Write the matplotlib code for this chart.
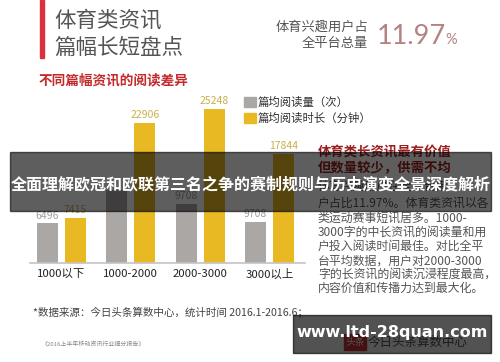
import matplotlib
matplotlib.use("Agg")
import matplotlib.pyplot as plt
from matplotlib.patches import Rectangle

plt.rcParams['font.family'] = ['Noto Sans CJK SC', 'DejaVu Sans']

# ---------------- data ----------------
categories = ["1000以下", "1000-2000", "2000-3000", "3000以上"]
reads = [6496, 11950, 9708, 6700]          # 篇均阅读量（次）
read_labels = ["6496", "", "9708", "9708"]
durations = [7415, 22906, 25248, 17844]    # 篇均阅读时长（分钟）
duration_labels = ["7415", "22906", "25248", "17844"]
series_names = ["篇均阅读量（次）", "篇均阅读时长（分钟）"]

title_lines = ["体育类资讯", "篇幅长短盘点"]
subtitle = "不同篇幅资讯的阅读差异"
kpi_label = ["体育兴趣用户占", "全平台总量"]
kpi_value = "11.97"
note_head = ["体育类长资讯最有价值", "但数量较少，供需不均"]
note_body = ["体育兴趣用户在全平台用", "户占比11.97%。体育类资讯以各", "类运动赛事短讯居多。1000-",
             "3000字的中长资讯的阅读量和用", "户投入阅读时间最佳。对比全平",
             "台平均数据，用户对2000-3000", "字的长资讯的阅读沉浸程度最高，",
             "内容价值和传播力达到最大化。"]
source = "*数据来源：今日头条算数中心，统计时间 2016.1-2016.6；"
report = "《2016上半年移动资讯行业细分报告》"
banner = "全面理解欧冠和欧联第三名之争的赛制规则与历史演变全景深度解析"
watermark = "www.ltd-28quan.com"

# ---------------- figure ----------------
W, H = 500, 362
fig = plt.figure(figsize=(W / 100, H / 100), dpi=100)
fig.patch.set_facecolor("white")

def fx(px):
    return px / W

def fy(py):
    return 1 - py / H

GRAY = "#aba7a5"
YELLOW = "#e8b923"

# chart axes: left 30px, right 305px, baseline 263px, top 63px
ax = fig.add_axes([fx(30), fy(263), fx(305) - fx(30), (263 - 63) / H])
x = list(range(len(categories)))
off = 14 / 69.3
bw = 21 / 69.3
b1 = ax.bar([i - off for i in x], reads, width=bw, color=GRAY, zorder=2)
b2 = ax.bar([i + off for i in x], durations, width=bw, color=YELLOW, zorder=2)
for rect, lab in zip(b1, read_labels):
    if lab:
        ax.annotate(lab, (rect.get_x() + rect.get_width() / 2, rect.get_height()),
                    xytext=(0, 2), textcoords="offset points", ha="center", va="bottom",
                    fontsize=7.5, color="#a19d9b")
for rect, lab in zip(b2, duration_labels):
    ax.annotate(lab, (rect.get_x() + rect.get_width() / 2, rect.get_height()),
                xytext=(0, 2), textcoords="offset points", ha="center", va="bottom",
                fontsize=7.5, color="#c8b04a")
ax.set_xlim((30 - 61.5) / 69.3, (305 - 61.5) / 69.3)
ax.set_ylim(0, 200 / 0.00611)
ax.set_xticks(x)
ax.set_xticklabels(categories, fontsize=8.2, color="#222222")
ax.tick_params(axis="x", length=0, pad=4)
ax.set_yticks([])
for s in ["top", "right", "left"]:
    ax.spines[s].set_visible(False)
ax.spines["bottom"].set_color("#c4c4c4")
ax.spines["bottom"].set_linewidth(1.2)
ax.set_facecolor("none")

# title block
fig.patches.append(Rectangle((fx(40), fy(58)), fx(4), 58 / H, transform=fig.transFigure,
                             color="#d8323f", zorder=1))
fig.text(fx(54), fy(21), title_lines[0], fontsize=15.5, color="#555555", va="center", ha="left")
fig.text(fx(54), fy(48), title_lines[1], fontsize=15.5, color="#555555", va="center", ha="left")
fig.text(fx(39), fy(80), subtitle, fontsize=9.8, color="#c42a2c", fontweight="bold", va="center")

# KPI
fig.text(fx(368), fy(27), kpi_label[0], fontsize=9.5, color="#555555", ha="right", va="center")
fig.text(fx(368), fy(43), kpi_label[1], fontsize=9.5, color="#555555", ha="right", va="center")
fig.text(fx(377), fy(44), kpi_value, fontsize=19.5, color="#b58282", ha="left", va="baseline",
         family=["Lato", "DejaVu Sans"], fontweight="normal")
fig.text(fx(445), fy(44), "%", fontsize=10.5, color="#b58282", ha="left", va="baseline",
         family=["Lato", "DejaVu Sans"], fontweight="normal")

# legend
for i, (name, col) in enumerate(zip(series_names, [GRAY, YELLOW])):
    yc = 102 + i * 16
    fig.patches.append(Rectangle((fx(244), fy(yc + 5)), 12 / W, 10 / H,
                                 transform=fig.transFigure, color=col))
    fig.text(fx(258), fy(yc), name, fontsize=8.2, color="#333333", va="center", ha="left")

# note text
fig.text(fx(318), fy(152), note_head[0], fontsize=9.6, color="#9c1e1e", fontweight="bold", va="center")
fig.text(fx(318), fy(168), note_head[1], fontsize=9.6, color="#9c1e1e", fontweight="bold", va="center")
ys = [186, 203, 218, 232, 246, 261, 274, 288]
for yy, line in zip(ys, note_body):
    fig.text(fx(318), fy(yy), line, fontsize=8.6, color="#555555", va="center", ha="left")

# footer
fig.text(fx(33), fy(313), source, fontsize=7.6, color="#444444", va="center", ha="left")
fig.text(fx(42), fy(344), report, fontsize=4.3, color="#888888", va="center", ha="left")

# logo behind watermark
fig.patches.append(Rectangle((fx(344), fy(350)), 22 / W, 16 / H, transform=fig.transFigure,
                             color="#d13535", zorder=3))
fig.text(fx(355), fy(342), "头条", fontsize=7, color="white", ha="center", va="center", zorder=4)
fig.text(fx(368), fy(342), "今日头条算数中心", fontsize=9, color="#555555", ha="left", va="center", zorder=4)

# overlay banner
fig.patches.append(Rectangle((fx(10), fy(211)), (491 - 10) / W, (211 - 152) / H,
                             transform=fig.transFigure, color="black", alpha=0.63, zorder=10))
fig.text(fx(251), fy(184), banner, fontsize=11.5, color="white", fontweight="bold",
         ha="center", va="center", zorder=11)

# watermark box
fig.patches.append(Rectangle((fx(293), fy(353)), (491 - 293) / W, (353 - 315) / H,
                             transform=fig.transFigure, color="black", alpha=0.68, zorder=10))
fig.text(fx(392), fy(333), watermark, fontsize=11.5, color="white", fontweight="bold",
         family=["DejaVu Sans"], ha="center", va="center", zorder=11)

fig.savefig("out.png", dpi=100)
